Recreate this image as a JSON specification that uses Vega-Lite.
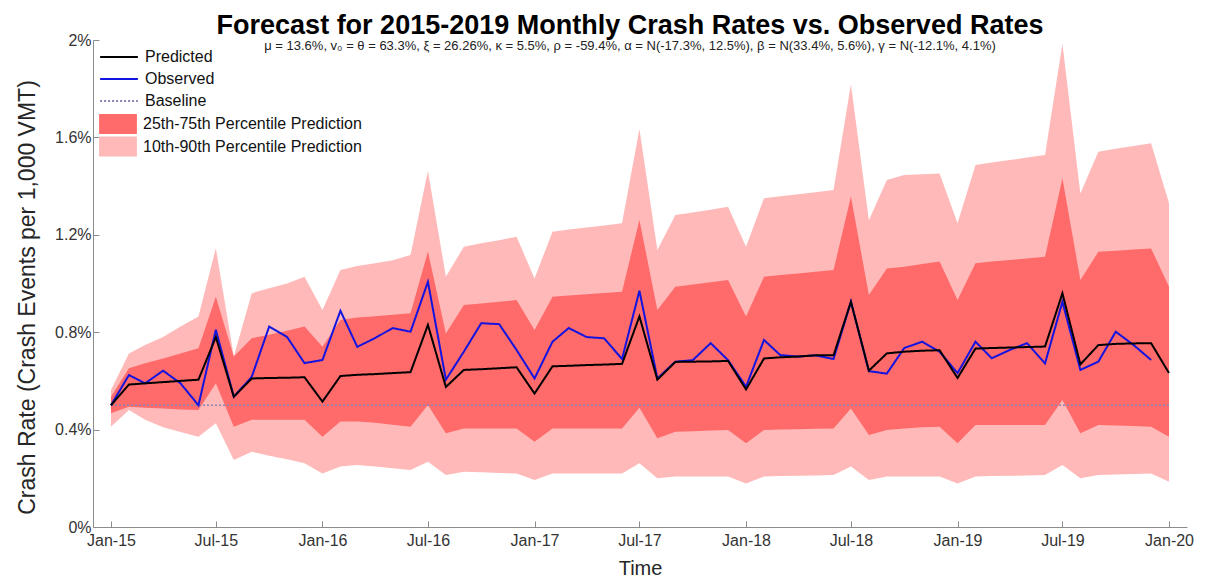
{
  "$schema": "https://vega.github.io/schema/vega-lite/v6.json",
  "autosize": "none",
  "width": 1094,
  "height": 487,
  "padding": {"left": 93, "top": 40, "right": 20, "bottom": 53},
  "background": "white",
  "config": {
    "font": "Liberation Sans",
    "view": {"stroke": null},
    "axis": {"grid": false, "domainColor": "#8c8c8c", "tickColor": "#8c8c8c", "labelColor": "#333333", "titleColor": "#262626", "labelFont": "Liberation Sans", "titleFont": "Liberation Sans", "titleFontWeight": "normal"}
  },
  "title": {
    "text": "Forecast for 2015-2019 Monthly Crash Rates vs. Observed Rates",
    "subtitle": "μ = 13.6%, v₀ = θ = 63.3%, ξ = 26.26%, κ = 5.5%, ρ = -59.4%, α = N(-17.3%, 12.5%), β = N(33.4%, 5.6%), γ = N(-12.1%, 4.1%)",
    "anchor": "middle",
    "fontSize": 27,
    "fontWeight": "bold",
    "color": "#000000",
    "subtitleFontSize": 13,
    "subtitleColor": "#222222",
    "subtitlePadding": 0,
    "offset": -22,
    "dx": -10
  },
  "data": {"values": [
    {"date": "2015-01-01", "Predicted": 0.500, "Observed": 0.500, "p10": 0.412, "p25": 0.467, "p75": 0.535, "p90": 0.563},
    {"date": "2015-02-01", "Predicted": 0.585, "Observed": 0.624, "p10": 0.480, "p25": 0.494, "p75": 0.652, "p90": 0.713},
    {"date": "2015-03-01", "Predicted": 0.590, "Observed": 0.590, "p10": 0.440, "p25": 0.490, "p75": 0.672, "p90": 0.747},
    {"date": "2015-04-01", "Predicted": 0.595, "Observed": 0.642, "p10": 0.410, "p25": 0.487, "p75": 0.692, "p90": 0.780},
    {"date": "2015-05-01", "Predicted": 0.600, "Observed": 0.590, "p10": 0.390, "p25": 0.483, "p75": 0.713, "p90": 0.823},
    {"date": "2015-06-01", "Predicted": 0.605, "Observed": 0.500, "p10": 0.371, "p25": 0.480, "p75": 0.734, "p90": 0.864},
    {"date": "2015-07-01", "Predicted": 0.780, "Observed": 0.810, "p10": 0.426, "p25": 0.590, "p75": 0.946, "p90": 1.145},
    {"date": "2015-08-01", "Predicted": 0.535, "Observed": 0.535, "p10": 0.275, "p25": 0.412, "p75": 0.700, "p90": 0.700},
    {"date": "2015-09-01", "Predicted": 0.610, "Observed": 0.617, "p10": 0.309, "p25": 0.440, "p75": 0.775, "p90": 0.960},
    {"date": "2015-10-01", "Predicted": 0.612, "Observed": 0.823, "p10": 0.293, "p25": 0.440, "p75": 0.790, "p90": 0.980},
    {"date": "2015-11-01", "Predicted": 0.613, "Observed": 0.780, "p10": 0.278, "p25": 0.440, "p75": 0.806, "p90": 1.000},
    {"date": "2015-12-01", "Predicted": 0.615, "Observed": 0.673, "p10": 0.262, "p25": 0.440, "p75": 0.823, "p90": 1.028},
    {"date": "2016-01-01", "Predicted": 0.515, "Observed": 0.686, "p10": 0.220, "p25": 0.371, "p75": 0.740, "p90": 0.891},
    {"date": "2016-02-01", "Predicted": 0.620, "Observed": 0.888, "p10": 0.248, "p25": 0.433, "p75": 0.850, "p90": 1.055},
    {"date": "2016-03-01", "Predicted": 0.625, "Observed": 0.740, "p10": 0.255, "p25": 0.433, "p75": 0.860, "p90": 1.072},
    {"date": "2016-04-01", "Predicted": 0.628, "Observed": 0.776, "p10": 0.248, "p25": 0.428, "p75": 0.866, "p90": 1.083},
    {"date": "2016-05-01", "Predicted": 0.632, "Observed": 0.817, "p10": 0.241, "p25": 0.420, "p75": 0.872, "p90": 1.095},
    {"date": "2016-06-01", "Predicted": 0.636, "Observed": 0.802, "p10": 0.234, "p25": 0.412, "p75": 0.878, "p90": 1.117},
    {"date": "2016-07-01", "Predicted": 0.830, "Observed": 1.007, "p10": 0.268, "p25": 0.501, "p75": 1.131, "p90": 1.462},
    {"date": "2016-08-01", "Predicted": 0.575, "Observed": 0.605, "p10": 0.214, "p25": 0.385, "p75": 0.795, "p90": 1.028},
    {"date": "2016-09-01", "Predicted": 0.645, "Observed": 0.720, "p10": 0.227, "p25": 0.405, "p75": 0.912, "p90": 1.151},
    {"date": "2016-10-01", "Predicted": 0.648, "Observed": 0.837, "p10": 0.225, "p25": 0.405, "p75": 0.918, "p90": 1.165},
    {"date": "2016-11-01", "Predicted": 0.652, "Observed": 0.833, "p10": 0.222, "p25": 0.405, "p75": 0.925, "p90": 1.178},
    {"date": "2016-12-01", "Predicted": 0.656, "Observed": 0.727, "p10": 0.220, "p25": 0.405, "p75": 0.932, "p90": 1.192},
    {"date": "2017-01-01", "Predicted": 0.548, "Observed": 0.610, "p10": 0.193, "p25": 0.350, "p75": 0.809, "p90": 1.021},
    {"date": "2017-02-01", "Predicted": 0.660, "Observed": 0.761, "p10": 0.220, "p25": 0.405, "p75": 0.946, "p90": 1.213},
    {"date": "2017-03-01", "Predicted": 0.662, "Observed": 0.817, "p10": 0.220, "p25": 0.405, "p75": 0.951, "p90": 1.222},
    {"date": "2017-04-01", "Predicted": 0.665, "Observed": 0.780, "p10": 0.220, "p25": 0.405, "p75": 0.956, "p90": 1.230},
    {"date": "2017-05-01", "Predicted": 0.667, "Observed": 0.775, "p10": 0.220, "p25": 0.405, "p75": 0.961, "p90": 1.238},
    {"date": "2017-06-01", "Predicted": 0.670, "Observed": 0.690, "p10": 0.220, "p25": 0.405, "p75": 0.966, "p90": 1.247},
    {"date": "2017-07-01", "Predicted": 0.865, "Observed": 0.970, "p10": 0.262, "p25": 0.490, "p75": 1.261, "p90": 1.635},
    {"date": "2017-08-01", "Predicted": 0.605, "Observed": 0.610, "p10": 0.200, "p25": 0.364, "p75": 0.891, "p90": 1.138},
    {"date": "2017-09-01", "Predicted": 0.678, "Observed": 0.679, "p10": 0.207, "p25": 0.391, "p75": 0.987, "p90": 1.281},
    {"date": "2017-10-01", "Predicted": 0.679, "Observed": 0.685, "p10": 0.207, "p25": 0.393, "p75": 0.996, "p90": 1.292},
    {"date": "2017-11-01", "Predicted": 0.680, "Observed": 0.755, "p10": 0.207, "p25": 0.396, "p75": 1.005, "p90": 1.303},
    {"date": "2017-12-01", "Predicted": 0.682, "Observed": 0.685, "p10": 0.207, "p25": 0.398, "p75": 1.014, "p90": 1.315},
    {"date": "2018-01-01", "Predicted": 0.565, "Observed": 0.576, "p10": 0.179, "p25": 0.344, "p75": 0.864, "p90": 1.151},
    {"date": "2018-02-01", "Predicted": 0.692, "Observed": 0.768, "p10": 0.207, "p25": 0.398, "p75": 1.028, "p90": 1.350},
    {"date": "2018-03-01", "Predicted": 0.697, "Observed": 0.706, "p10": 0.209, "p25": 0.400, "p75": 1.035, "p90": 1.358},
    {"date": "2018-04-01", "Predicted": 0.700, "Observed": 0.700, "p10": 0.210, "p25": 0.401, "p75": 1.041, "p90": 1.367},
    {"date": "2018-05-01", "Predicted": 0.705, "Observed": 0.705, "p10": 0.212, "p25": 0.403, "p75": 1.048, "p90": 1.375},
    {"date": "2018-06-01", "Predicted": 0.705, "Observed": 0.690, "p10": 0.214, "p25": 0.405, "p75": 1.055, "p90": 1.384},
    {"date": "2018-07-01", "Predicted": 0.925, "Observed": 0.925, "p10": 0.248, "p25": 0.487, "p75": 1.357, "p90": 1.818},
    {"date": "2018-08-01", "Predicted": 0.642, "Observed": 0.640, "p10": 0.193, "p25": 0.378, "p75": 0.953, "p90": 1.260},
    {"date": "2018-09-01", "Predicted": 0.713, "Observed": 0.630, "p10": 0.207, "p25": 0.398, "p75": 1.062, "p90": 1.425},
    {"date": "2018-10-01", "Predicted": 0.720, "Observed": 0.735, "p10": 0.207, "p25": 0.405, "p75": 1.069, "p90": 1.446},
    {"date": "2018-11-01", "Predicted": 0.724, "Observed": 0.761, "p10": 0.207, "p25": 0.410, "p75": 1.080, "p90": 1.449},
    {"date": "2018-12-01", "Predicted": 0.726, "Observed": 0.720, "p10": 0.207, "p25": 0.412, "p75": 1.090, "p90": 1.452},
    {"date": "2019-01-01", "Predicted": 0.612, "Observed": 0.632, "p10": 0.179, "p25": 0.344, "p75": 0.932, "p90": 1.247},
    {"date": "2019-02-01", "Predicted": 0.733, "Observed": 0.761, "p10": 0.207, "p25": 0.419, "p75": 1.083, "p90": 1.487},
    {"date": "2019-03-01", "Predicted": 0.735, "Observed": 0.693, "p10": 0.209, "p25": 0.419, "p75": 1.090, "p90": 1.497},
    {"date": "2019-04-01", "Predicted": 0.737, "Observed": 0.727, "p10": 0.210, "p25": 0.419, "p75": 1.096, "p90": 1.507},
    {"date": "2019-05-01", "Predicted": 0.739, "Observed": 0.755, "p10": 0.212, "p25": 0.419, "p75": 1.103, "p90": 1.517},
    {"date": "2019-06-01", "Predicted": 0.741, "Observed": 0.672, "p10": 0.214, "p25": 0.419, "p75": 1.110, "p90": 1.528},
    {"date": "2019-07-01", "Predicted": 0.960, "Observed": 0.925, "p10": 0.255, "p25": 0.522, "p75": 1.432, "p90": 1.985},
    {"date": "2019-08-01", "Predicted": 0.668, "Observed": 0.645, "p10": 0.200, "p25": 0.385, "p75": 1.014, "p90": 1.370},
    {"date": "2019-09-01", "Predicted": 0.747, "Observed": 0.679, "p10": 0.214, "p25": 0.419, "p75": 1.130, "p90": 1.541},
    {"date": "2019-10-01", "Predicted": 0.752, "Observed": 0.802, "p10": 0.216, "p25": 0.417, "p75": 1.135, "p90": 1.553},
    {"date": "2019-11-01", "Predicted": 0.754, "Observed": 0.747, "p10": 0.218, "p25": 0.415, "p75": 1.140, "p90": 1.565},
    {"date": "2019-12-01", "Predicted": 0.755, "Observed": 0.686, "p10": 0.220, "p25": 0.412, "p75": 1.144, "p90": 1.576},
    {"date": "2020-01-01", "Predicted": 0.632, "Observed": null, "p10": 0.186, "p25": 0.371, "p75": 0.987, "p90": 1.330}
  ]},
  "encoding": {
    "x": {
      "field": "date", "type": "temporal",
      "scale": {"type": "utc", "domain": [{"year": 2014, "month": 12, "date": 1, "utc": true}, {"year": 2020, "month": 2, "date": 1, "utc": true}]},
      "axis": {
        "title": "Time", "titleFontSize": 20, "titlePadding": 10,
        "labelFontSize": 16, "labelPadding": 11, "tickSize": -6,
        "labelExpr": "utcFormat(datum.value, '%b-%y')",
        "values": [
          {"year": 2015, "month": 1, "date": 1, "utc": true}, {"year": 2015, "month": 7, "date": 1, "utc": true},
          {"year": 2016, "month": 1, "date": 1, "utc": true}, {"year": 2016, "month": 7, "date": 1, "utc": true},
          {"year": 2017, "month": 1, "date": 1, "utc": true}, {"year": 2017, "month": 7, "date": 1, "utc": true},
          {"year": 2018, "month": 1, "date": 1, "utc": true}, {"year": 2018, "month": 7, "date": 1, "utc": true},
          {"year": 2019, "month": 1, "date": 1, "utc": true}, {"year": 2019, "month": 7, "date": 1, "utc": true},
          {"year": 2020, "month": 1, "date": 1, "utc": true}
        ]
      }
    }
  },
  "layer": [
    {
      "mark": {"type": "area", "opacity": 1},
      "encoding": {
        "y": {"field": "p10", "type": "quantitative", "scale": {"domain": [0, 2], "nice": false},
          "axis": {"title": "Crash Rate (Crash Events per 1,000 VMT)", "titleFontSize": 23, "titlePadding": 15, "titleY": 257, "labelFontSize": 16, "labelPadding": 8, "tickSize": -6, "values": [0, 0.4, 0.8, 1.2, 1.6, 2], "labelExpr": "datum.value + '%'"}},
        "y2": {"field": "p90"},
        "fill": {"datum": "10th-90th Percentile Prediction", "type": "nominal", "title": null,
          "scale": {"domain": ["25th-75th Percentile Prediction", "10th-90th Percentile Prediction"], "range": ["#ff6a6a", "#ffb9b9"]},
          "legend": {
            "title": null, "orient": "none", "legendX": 16, "legendY": 75,
            "symbolType": "M-2.1,-1.1H2.1V1.1H-2.1Z", "symbolSize": 324, "symbolStrokeWidth": 0, "symbolOpacity": 1,
            "labelFontSize": 16, "labelColor": "#111111", "labelOffset": 16, "labelLimit": 400,
            "rowPadding": 2.5, "padding": 0
          }}
      }
    },
    {
      "mark": {"type": "area", "opacity": 1},
      "encoding": {
        "y": {"field": "p25", "type": "quantitative"},
        "y2": {"field": "p75"},
        "fill": {"datum": "25th-75th Percentile Prediction", "type": "nominal", "title": null}
      }
    },
    {
      "data": {"values": [
        {"date": "2015-01-01", "series": "Baseline", "value": 0.5},
        {"date": "2020-01-01", "series": "Baseline", "value": 0.5}
      ]},
      "mark": {"type": "line", "strokeWidth": 1.5},
      "encoding": {
        "y": {"field": "value", "type": "quantitative"},
        "stroke": {"field": "series", "type": "nominal", "title": null},
        "strokeDash": {"field": "series", "type": "nominal", "title": null}
      }
    },
    {
      "transform": [{"fold": ["Observed", "Predicted"], "as": ["series", "value"]}, {"filter": "datum.value != null"}],
      "mark": {"type": "line", "strokeWidth": 2},
      "encoding": {
        "y": {"field": "value", "type": "quantitative"},
        "stroke": {"field": "series", "type": "nominal", "title": null,
          "scale": {"domain": ["Predicted", "Observed", "Baseline"], "range": ["#000000", "#1414e0", "#8585b5"]},
          "legend": {
            "title": null, "orient": "none", "legendX": 16, "legendY": 7,
            "symbolType": "M-2.1,0H2.1", "symbolSize": 324, "symbolStrokeWidth": 2, "symbolOpacity": 1,
            "labelFontSize": 16, "labelColor": "#111111", "labelOffset": 16, "labelLimit": 400,
            "rowPadding": 4, "padding": 0
          }},
        "strokeDash": {"field": "series", "type": "nominal", "title": null,
          "scale": {"domain": ["Predicted", "Observed", "Baseline"], "range": [[1, 0], [1, 0], [2, 2]]},
          "legend": {
            "title": null, "orient": "none", "legendX": 16, "legendY": 7,
            "symbolType": "M-2.1,0H2.1", "symbolSize": 324, "symbolStrokeWidth": 2, "symbolOpacity": 1,
            "labelFontSize": 16, "labelColor": "#111111", "labelOffset": 16, "labelLimit": 400,
            "rowPadding": 4, "padding": 0
          }}
      }
    }
  ]
}
